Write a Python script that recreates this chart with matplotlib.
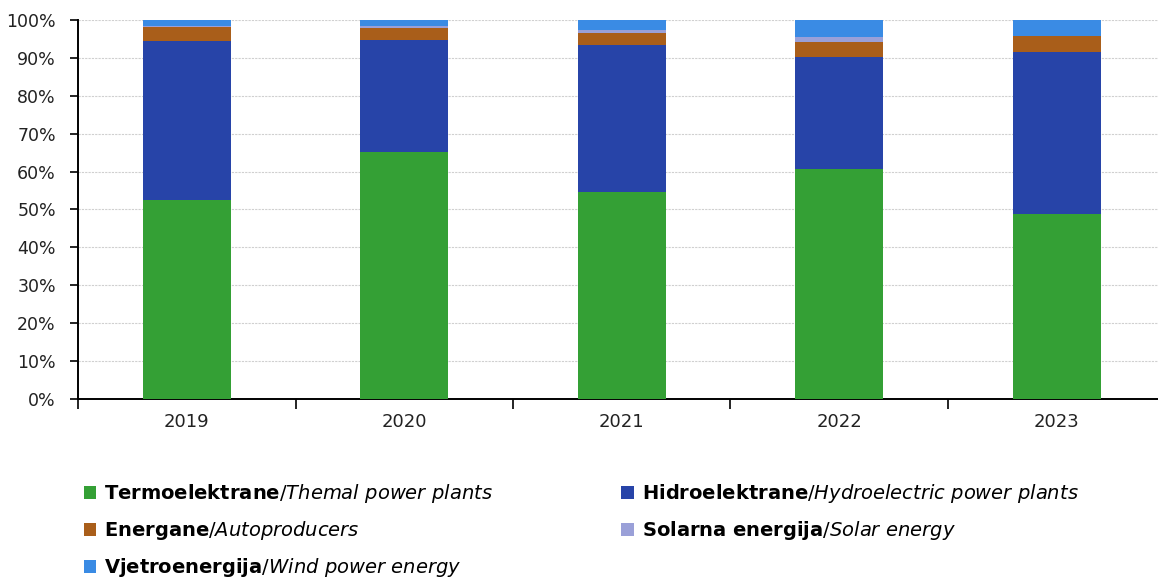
import numpy as np
import matplotlib.pyplot as plt

plt.rcParams["font.family"] = "DejaVu Sans"
plt.rcParams["mathtext.fontset"] = "custom"
plt.rcParams["mathtext.bf"] = "DejaVu Sans:bold"
plt.rcParams["mathtext.it"] = "DejaVu Sans:italic"
plt.rcParams["mathtext.rm"] = "DejaVu Sans"

years = ["2019", "2020", "2021", "2022", "2023"]
termo = [52.5, 65.2, 54.6, 60.7, 48.8]
hidro = [42.0, 29.5, 38.7, 29.5, 42.7]
energane = [3.6, 3.3, 3.3, 4.1, 4.4]
solar = [0.3, 0.5, 0.8, 1.2, 0.0]
vjetro = [1.6, 1.5, 2.6, 4.5, 4.1]

labels_bold = ["Termoelektrane", "Hidroelektrane", "Energane", "Solarna energija", "Vjetroenergija"]
labels_it = ["Themal power plants", "Hydroelectric power plants", "Autoproducers", "Solar energy", "Wind power energy"]
colors = ["#34a035", "#2744a8", "#a95e1a", "#9aa0d8", "#3a8be4"]

series = [termo, hidro, energane, solar, vjetro]

fig = plt.figure(figsize=(11.58, 5.78), dpi=100)
ax = fig.add_axes([0.0674, 0.3097, 0.9326, 0.6557])

x = np.arange(len(years))
bottom = np.zeros(len(years))
handles = []
for vals, c in zip(series, colors):
    b = ax.bar(x, vals, width=0.405, bottom=bottom, color=c, edgecolor="none", zorder=3)
    handles.append(b)
    bottom += np.array(vals)

ax.set_ylim(0, 100)
ax.set_xlim(-0.5, 4.466)
ax.set_yticks(np.arange(0, 101, 10))
ax.set_yticklabels([f"{v}%" for v in range(0, 101, 10)], fontsize=12.5, color="#222222")
ax.set_xticks(x)
ax.set_xticklabels(years, fontsize=13, color="#222222")
ax.set_xticks(np.arange(-0.5, 4.5, 1), minor=True)
ax.tick_params(axis="x", which="major", length=0, pad=10)
ax.tick_params(axis="x", which="minor", length=7, direction="out", width=1.2)
ax.tick_params(axis="y", length=6, direction="out", width=1.2, pad=10)
ax.yaxis.grid(True, color="#d0d0d0", linestyle=(0, (2, 1)), linewidth=0.8, zorder=0)
for s in ["top", "right"]:
    ax.spines[s].set_visible(False)
ax.spines["left"].set_linewidth(1.4)
ax.spines["bottom"].set_linewidth(1.4)


def lab(b, i):
    return r"$\mathbf{" + b.replace(" ", r"\ ") + r"}$/$\mathit{" + i.replace(" ", r"\ ") + r"}$"


order = [0, 2, 4, 1, 3]
fig.legend([handles[i] for i in order], [lab(labels_bold[i], labels_it[i]) for i in order],
           ncol=2, loc="upper left", bbox_to_anchor=(0.057, 0.196), frameon=False,
           fontsize=14, handlelength=0.62, handleheight=0.62, handletextpad=0.45,
           columnspacing=6.6, labelspacing=0.72)

fig.savefig("out.png", dpi=100)
